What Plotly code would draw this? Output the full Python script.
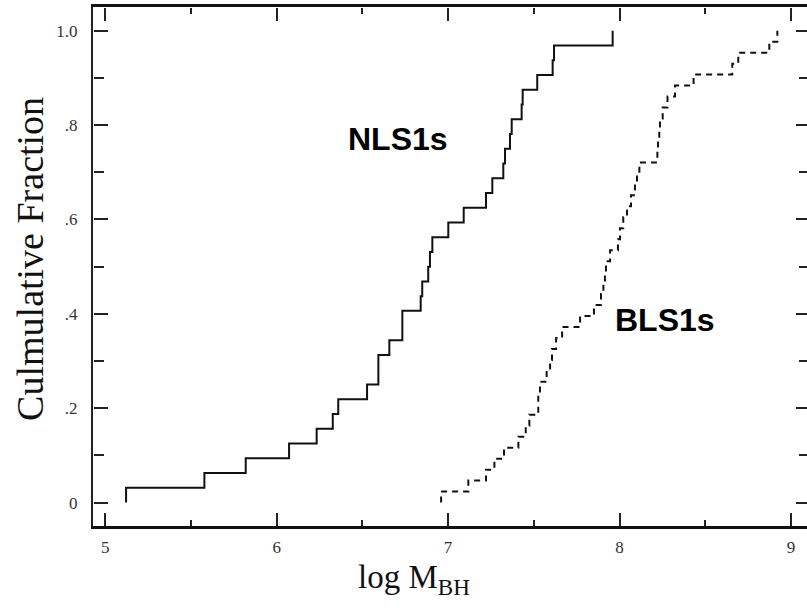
import numpy as np
import plotly.graph_objects as go

# log M_BH values
nls1_logm = [5.121, 5.578, 5.819, 6.072, 6.233, 6.327, 6.359, 6.527, 6.593, 6.593,
             6.657, 6.733, 6.733, 6.840, 6.849, 6.884, 6.894, 6.908, 7.001, 7.091,
             7.221, 7.258, 7.322, 7.332, 7.361, 7.371, 7.429, 7.435, 7.520, 7.610,
             7.618, 7.960]
bls1_logm = [6.959, 7.118, 7.221, 7.270, 7.326, 7.410, 7.453, 7.474, 7.526, 7.526,
             7.536, 7.575, 7.595, 7.606, 7.630, 7.665, 7.770, 7.851, 7.892, 7.906,
             7.915, 7.921, 7.945, 7.991, 8.003, 8.022, 8.044, 8.067, 8.090, 8.102,
             8.116, 8.221, 8.225, 8.232, 8.236, 8.252, 8.280, 8.324, 8.432, 8.658,
             8.693, 8.874, 8.921]

x_ticks = [5, 6, 7, 8, 9]
x_ticktext = ["5", "6", "7", "8", "9"]
x_minor_ticks = [5.5, 6.5, 7.5, 8.5]
y_ticks = [0, 0.2, 0.4, 0.6, 0.8, 1.0]
y_ticktext = ["0", ".2", ".4", ".6", ".8", "1.0"]
y_minor_ticks = [0.1, 0.3, 0.5, 0.7, 0.9]

series_labels = ["NLS1s", "BLS1s"]
x_title = "log M<sub>BH</sub>"
y_title = "Culmulative Fraction"


def ecdf(vals):
    v = np.sort(np.asarray(vals, dtype=float))
    frac = np.arange(1, len(v) + 1) / len(v)
    return np.concatenate([[v[0]], v]), np.concatenate([[0.0], frac])


xn, yn = ecdf(nls1_logm)
xb, yb = ecdf(bls1_logm)

xrange_ = [4.928, 9.094]
yrange = [-0.0497, 1.0503]
tickfont = dict(family="Liberation Serif", size=17, color="#333333")
tc = "#222222"

fig = go.Figure()
fig.add_trace(go.Scatter(x=xn, y=yn, mode="lines", line=dict(shape="hv", color="#111111", width=2),
                         showlegend=False, hoverinfo="skip"))
fig.add_trace(go.Scatter(x=xb, y=yb, mode="lines",
                         line=dict(shape="hv", color="#111111", width=2, dash="6px,5px"),
                         showlegend=False, hoverinfo="skip"))

layout = dict(
    width=807, height=608,
    margin=dict(l=93, r=0, t=7, b=82, autoexpand=False),
    paper_bgcolor="white", plot_bgcolor="white",
    xaxis=dict(range=xrange_, showgrid=False, zeroline=False, automargin=False,
               showline=True, linecolor="#111111", linewidth=2.5, mirror=True,
               tickmode="array", tickvals=x_ticks, ticktext=x_ticktext,
               ticks="", tickfont=tickfont, ticklabelstandoff=4),
    yaxis=dict(range=yrange, showgrid=False, zeroline=False, automargin=False,
               showline=True, linecolor="#222222", linewidth=2, mirror=True,
               tickmode="array", tickvals=y_ticks, ticktext=y_ticktext,
               ticks="", tickfont=tickfont, ticklabelstandoff=10),
    showlegend=False,
)

# tick-only axes: outward ticks of a free axis placed on the opposite edge point into the plot
tick_axes = [
    # (kind, side, position, values, length)
    ("x", "top", 0.0, x_ticks, 13),
    ("x", "top", 0.0, x_minor_ticks, 6),
    ("x", "bottom", 1.0, x_ticks, 13),
    ("x", "bottom", 1.0, x_minor_ticks, 6),
    ("y", "right", 0.0, y_ticks, 14),
    ("y", "right", 0.0, y_minor_ticks, 10),
    ("y", "left", 1.0, y_ticks, 11),
    ("y", "left", 1.0, y_minor_ticks, 8),
]
nx, ny = 1, 1
for kind, side, pos, vals, ln in tick_axes:
    common = dict(showgrid=False, zeroline=False, automargin=False, showline=False,
                  anchor="free", position=pos, side=side, tickmode="array", tickvals=vals,
                  ticks="outside", ticklen=ln, tickwidth=2, tickcolor=tc, showticklabels=False)
    if kind == "x":
        nx += 1
        layout["xaxis%d" % nx] = dict(range=xrange_, overlaying="x", **common)
        fig.add_trace(go.Scatter(x=[xrange_[0]], y=[yrange[0]], xaxis="x%d" % nx, yaxis="y",
                                 mode="markers", marker=dict(opacity=0), showlegend=False,
                                 hoverinfo="skip"))
    else:
        ny += 1
        layout["yaxis%d" % ny] = dict(range=yrange, overlaying="y", **common)
        fig.add_trace(go.Scatter(x=[xrange_[0]], y=[yrange[0]], xaxis="x", yaxis="y%d" % ny,
                                 mode="markers", marker=dict(opacity=0), showlegend=False,
                                 hoverinfo="skip"))

fig.update_layout(**layout)

label_font = dict(family="Liberation Sans", size=32, color="black")
fig.add_annotation(x=6.708, y=0.770, xref="x", yref="y", text="<b>%s</b>" % series_labels[0],
                   showarrow=False, font=label_font, xanchor="center", yanchor="middle")
fig.add_annotation(x=8.268, y=0.387, xref="x", yref="y", text="<b>%s</b>" % series_labels[1],
                   showarrow=False, font=label_font, xanchor="center", yanchor="middle")

fig.add_annotation(x=6.463, y=-0.06, xref="x", yref="paper", text=x_title, showarrow=False,
                   font=dict(family="Liberation Serif", size=33, color="#111111"),
                   xanchor="left", yanchor="top")
fig.add_annotation(x=-0.088, y=0.515, xref="paper", yref="paper", text=y_title, showarrow=False,
                   textangle=-90, font=dict(family="Liberation Serif", size=38, color="#111111"),
                   xanchor="center", yanchor="middle")

fig.write_html("out.html", config={"displayModeBar": False},
               post_script="document.body.style.margin='0px';document.body.style.padding='0px';")
